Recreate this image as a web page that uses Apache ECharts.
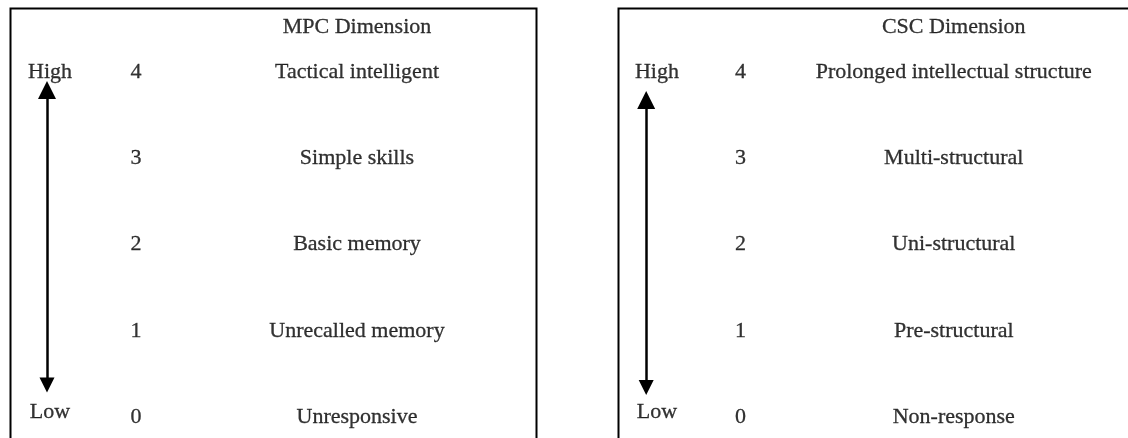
<!DOCTYPE html>
<html>
<head>
<meta charset="utf-8">
<script src="https://cdn.jsdelivr.net/npm/echarts@6/dist/echarts.min.js"></script>
<style>
html,body{margin:0;padding:0;background:#fff;}
#chart{width:1128px;height:438px;}
</style>
</head>
<body>
<div id="chart"></div>
<script>
// ---- data ----
const levels = [4, 3, 2, 1, 0];
const mpcLabels = ['Tactical intelligent', 'Simple skills', 'Basic memory', 'Unrecalled memory', 'Unresponsive'];
const cscLabels = ['Prolonged intellectual structure', 'Multi-structural', 'Uni-structural', 'Pre-structural', 'Non-response'];
const panelTitles = ['MPC Dimension', 'CSC Dimension'];
const scaleEnds = ['High', 'Low'];

// ---- layout ----
const FONT = '"Liberation Serif", "Times New Roman", serif';
const FS = 22;
const panels = [
  { left: 8, labels: mpcLabels, title: panelTitles[0], arrowX: 39, arrowTop: 3.79, arrowBot: 0.37, labelX: 349 },
  { left: 616, labels: cscLabels, title: panelTitles[1], arrowX: 31, arrowTop: 3.675, arrowBot: 0.342, labelX: 347 }
];
const PW = 526;
const TITLE_LEVEL = 4.522;

const textLabel = (extra) => Object.assign({
  show: true, position: 'inside', color: '#000',
  fontFamily: FONT, fontSize: FS, align: 'center', verticalAlign: 'middle',
  textBorderColor: '#000', textBorderWidth: 0.3
}, extra || {});

const grids = [], xAxes = [], yAxes = [], series = [], graphics = [];
panels.forEach((p, i) => {
  grids.push({ left: p.left, width: PW, top: 72, height: 345, containLabel: false });
  xAxes.push({ gridIndex: i, type: 'value', min: 0, max: PW, show: false });
  yAxes.push({ gridIndex: i, type: 'value', min: 0, max: 4, show: false });
  graphics.push({
    type: 'rect', left: p.left, top: 6, z: 0,
    shape: { width: PW, height: 460 },
    style: { fill: 'none', stroke: '#000', lineWidth: 2 }
  });
  const base = { type: 'scatter', xAxisIndex: i, yAxisIndex: i, symbolSize: 0, silent: true, clip: false };
  // scores
  series.push(Object.assign({}, base, {
    data: levels.map(l => ({ value: [128, l], name: String(l) })),
    label: textLabel({ formatter: '{b}' })
  }));
  // descriptions
  series.push(Object.assign({}, base, {
    data: levels.map((l, k) => ({ value: [p.labelX, l], name: p.labels[k] })),
    label: textLabel({ formatter: '{b}' })
  }));
  // panel title
  series.push(Object.assign({}, base, {
    data: [{ value: [p.labelX, TITLE_LEVEL], name: p.title }],
    label: textLabel({ formatter: '{b}' })
  }));
  // High / Low
  series.push(Object.assign({}, base, {
    data: [
      { value: [42, levels[0]], name: scaleEnds[0] },
      { value: [42, levels[levels.length - 1]], name: scaleEnds[1], label: { offset: [0, -5] } }
    ],
    label: textLabel({ formatter: '{b}' })
  }));
  // double arrow
  series.push({
    type: 'lines', coordinateSystem: 'cartesian2d', xAxisIndex: i, yAxisIndex: i, silent: true,
    symbol: ['triangle', 'triangle'], symbolSize: [18, 15],
    lineStyle: { color: '#000', width: 2.5, opacity: 1 },
    itemStyle: { color: '#000' },
    data: [{ coords: [[p.arrowX, p.arrowTop], [p.arrowX, p.arrowBot]] }]
  });
});

const chart = echarts.init(document.getElementById('chart'), null, { renderer: 'canvas' });
chart.setOption({
  backgroundColor: '#fff',
  animation: false,
  grid: grids, xAxis: xAxes, yAxis: yAxes,
  graphic: graphics,
  series: series
});
</script>
</body>
</html>
